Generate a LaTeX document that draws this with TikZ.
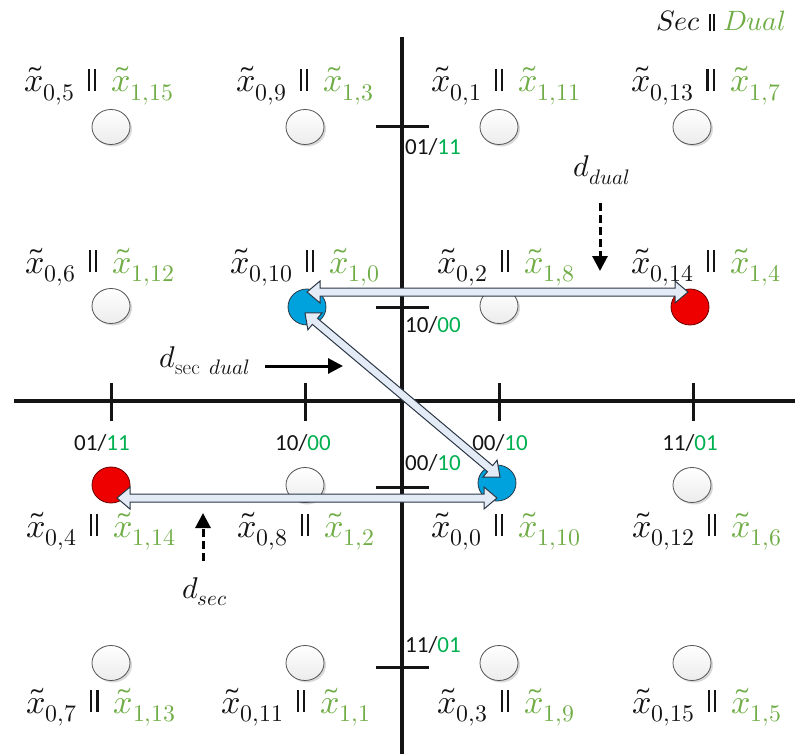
\documentclass[tikz,border=0pt]{standalone}
\usepackage{fontspec}
\usepackage{unicode-math}
\setmathfont{Latin Modern Math}
\newfontfamily\calfont{Carlito}
\usetikzlibrary{calc,arrows.meta,shapes.geometric,shadows}
\definecolor{lgreen}{HTML}{70AD47}
\definecolor{bgreen}{HTML}{00B050}
\definecolor{txt}{HTML}{141414}
\definecolor{cblue}{HTML}{00A2DE}
\definecolor{cred}{HTML}{EE0000}
\definecolor{afill}{HTML}{E3EBF6}
\definecolor{aline}{HTML}{2A3644}
\newcommand\pb{\hspace{13pt}\rule[1pt]{2.6pt}{22pt}\hspace{3.6pt}\rule[1pt]{2.6pt}{22pt}\hspace{15pt}}
\newcommand\pbs{\hspace{8pt}\rule[0pt]{2pt}{17pt}\hspace{2.6pt}\rule[0pt]{2pt}{17pt}\hspace{8pt}}
\newcommand\lab[2]{$\tilde{x}_{0,#1}$\pb\textcolor{lgreen}{$\tilde{x}_{1,#2}$}}
\newcommand\ax[2]{{\calfont #1/\textcolor{bgreen}{#2}}}
\newcommand\blockarrow[2]{%
  \path[draw=aline, fill=afill, line width=1pt, line join=miter]
  (#1) -- ($(#1)!13pt!(#2)!11pt!90:(#2)$)
  -- ($(#1)!13pt!(#2)!4pt!90:(#2)$)
  -- ($(#2)!13pt!(#1)!4pt!-90:(#1)$)
  -- ($(#2)!13pt!(#1)!11pt!-90:(#1)$)
  -- (#2)
  -- ($(#2)!13pt!(#1)!11pt!90:(#1)$)
  -- ($(#2)!13pt!(#1)!4pt!90:(#1)$)
  -- ($(#1)!13pt!(#2)!4pt!-90:(#2)$)
  -- ($(#1)!13pt!(#2)!11pt!-90:(#2)$)
  -- cycle;}
\begin{document}
\begin{tikzpicture}[x=1pt,y=-1pt,
  axisline/.style={line width=3.2pt, draw=txt},
  tickline/.style={line width=3pt, draw=txt},
  wpt/.style={ellipse, minimum width=38pt, minimum height=35pt, inner sep=0pt,
    draw=gray!65!black, line width=0.8pt, top color=white, bottom color=gray!15,
    drop shadow={shadow xshift=2pt, shadow yshift=-2pt, opacity=0.3, fill=gray}},
  bpt/.style={ellipse, minimum width=38pt, minimum height=36pt, inner sep=0pt,
    fill=cblue, draw=aline, line width=0.8pt},
  rpt/.style={ellipse, minimum width=38pt, minimum height=36pt, inner sep=0pt,
    fill=cred, draw=red!40!black, line width=0.8pt},
  lbl/.style={anchor=base, inner sep=0pt, text=txt, font=\fontsize{34}{40}\selectfont},
  axl/.style={inner sep=0pt, text=txt, font=\fontsize{23}{27}\selectfont},
  dlbl/.style={anchor=base, inner sep=0pt, text=txt, font=\fontsize{30}{36}\selectfont},
  darrow/.style={line width=3pt, draw=black, -{Triangle[length=15pt,width=15pt]}},
]
\useasboundingbox (0,0) rectangle (795,754);
% axes
\coordinate (vtop) at (402,37); \coordinate (vbot) at (402,754);
\coordinate (hl) at (14,401); \coordinate (hr) at (795,401);
\draw[axisline] (vtop) -- (vbot);
\draw[axisline] (hl) -- (hr);
\foreach \y in {127,307,487,667} \draw[tickline] (376,\y) -- (429,\y);
\foreach \x in {111,305,499,693} \draw[tickline] (\x,383) -- (\x,421);
% axis labels
\node[axl] (v1) at (433,147) {\ax{01}{11}};
\node[axl] (v2) at (433,325) {\ax{10}{00}};
\node[axl] (v3) at (433,463) {\ax{00}{10}};
\node[axl] (v4) at (433,645) {\ax{11}{01}};
\node[axl] (h1) at (102,443) {\ax{01}{11}};
\node[axl] (h2) at (303,443) {\ax{10}{00}};
\node[axl] (h3) at (500,443) {\ax{00}{10}};
\node[axl] (h4) at (690,443) {\ax{11}{01}};
% points
\node[wpt] (p11) at (111,127) {};
\node[wpt] (p21) at (305,127) {};
\node[wpt] (p31) at (499,127) {};
\node[wpt] (p41) at (692,127) {};
\node[wpt] (p12) at (111,306) {};
\node[bpt] (p22) at (307,307) {};
\node[wpt] (p32) at (499,306) {};
\node[rpt] (p42) at (690,307) {};
\node[rpt] (p13) at (111,485) {};
\node[wpt] (p23) at (305,485) {};
\node[bpt] (p33) at (497,483) {};
\node[wpt] (p43) at (692,485) {};
\node[wpt] (p14) at (111,663) {};
\node[wpt] (p24) at (305,663) {};
\node[wpt] (p34) at (499,663) {};
\node[wpt] (p44) at (692,663) {};
% labels
\node[lbl] (l11) at (99,92) {\lab{5}{15}};
\node[lbl] (l21) at (305,92) {\lab{9}{3}};
\node[lbl] (l31) at (506,92) {\lab{1}{11}};
\node[lbl] (l41) at (706,92) {\lab{13}{7}};
\node[lbl] (l12) at (100,273) {\lab{6}{12}};
\node[lbl] (l22) at (305,273) {\lab{10}{0}};
\node[lbl] (l32) at (506,273) {\lab{2}{8}};
\node[lbl] (l42) at (706,273) {\lab{14}{4}};
\node[lbl] (l13) at (101,537) {\lab{4}{14}};
\node[lbl] (l23) at (306,537) {\lab{8}{2}};
\node[lbl] (l33) at (506,537) {\lab{0}{10}};
\node[lbl] (l43) at (707,537) {\lab{12}{6}};
\node[lbl] (l14) at (101,713) {\lab{7}{13}};
\node[lbl] (l24) at (296,713) {\lab{11}{1}};
\node[lbl] (l34) at (506,713) {\lab{3}{9}};
\node[lbl] (l44) at (707,713) {\lab{15}{5}};
% legend
\node[anchor=base east, inner sep=0pt, text=txt, font=\fontsize{28}{32}\selectfont] (legend) at (786,31)
  {$Sec$\pbs\textcolor{lgreen}{$Dual$}};
% block arrows
\coordinate (a1s) at (307,292); \coordinate (a1e) at (688,292);
\coordinate (a2s) at (305,313); \coordinate (a2e) at (500,477);
\coordinate (a3s) at (117,498); \coordinate (a3e) at (497,498);
\blockarrow{a1s}{a1e}
\blockarrow{a2s}{a2e}
\blockarrow{a3s}{a3e}
% distance labels and arrows
\node[dlbl] (ddual) at (602,177) {$d_{dual}$};
\node[dlbl] (dsec) at (205,598) {$d_{sec}$};
\node[dlbl] (dsd) at (205,367) {$d_{\mathrm{sec}\;\, dual}$};
\coordinate (dd1) at (600,203); \coordinate (dd2) at (600,271);
\coordinate (ds1) at (203,561); \coordinate (ds2) at (203,513);
\coordinate (dx1) at (265,366); \coordinate (dx2) at (343,366);
\draw[darrow, dash pattern=on 8pt off 4pt] (dd1) -- (dd2);
\draw[darrow, dash pattern=on 8pt off 4pt] (ds1) -- (ds2);
\draw[darrow] (dx1) -- (dx2);
\end{tikzpicture}
\end{document}
